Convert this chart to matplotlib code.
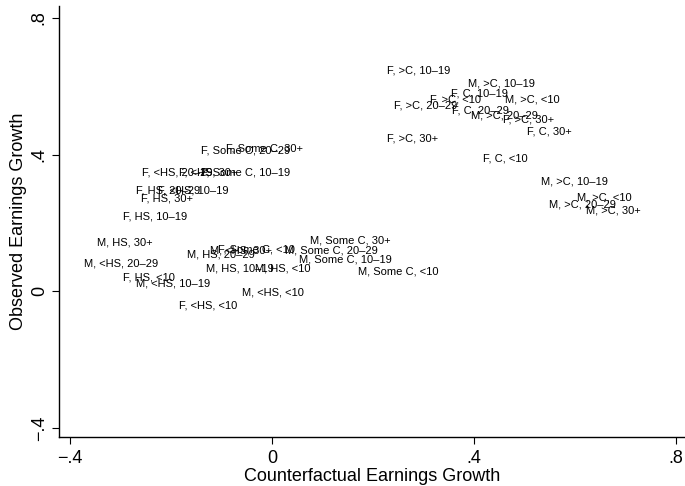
import matplotlib
matplotlib.use("Agg")
import matplotlib.pyplot as plt

plt.rcParams['font.family'] = ['Liberation Sans', 'DejaVu Sans']

# group labels (gender, education, experience) with counterfactual / observed growth
labels = [
    "F, >C, 10–19", "M, >C, 10–19", "F, C, 10–19", "F, >C, <10",
    "M, >C, <10", "F, >C, 20–29", "F, C, 20–29", "M, >C, 20–29",
    "F, >C, 30+", "F, C, 30+", "F, >C, 30+", "F, C, <10",
    "M, >C, 10–19", "M, >C, <10", "M, >C, 20–29", "M, >C, 30+",
    "F, Some C, 30+", "F, Some C, 20–29", "F, <HS, 20–29", "F, <HS, 30+",
    "F, Some C, 10–19", "F, HS, 20–29", "F, <HS, 10–19", "F, HS, 30+",
    "F, HS, 10–19", "M, HS, 30+", "M, <HS, 20–29", "F, HS, <10",
    "M, <HS, 10–19", "F, <HS, <10", "M, HS, 20–29", "M, <HS, 30+",
    "F, Some C, <10", "M, HS, 10–19", "M, HS, <10", "M, <HS, <10",
    "M, Some C, 30+", "M, Some C, 20–29", "M, Some C, 10–19", "M, Some C, <10",
]
counterfactual = [
    0.220, 0.380, 0.347, 0.305, 0.453, 0.234, 0.349, 0.386,
    0.450, 0.497, 0.220, 0.410, 0.525, 0.596, 0.541, 0.614,
    -0.099, -0.149, -0.265, -0.192, -0.149, -0.277, -0.234, -0.267,
    -0.303, -0.354, -0.380, -0.303, -0.277, -0.192, -0.176, -0.131,
    -0.115, -0.139, -0.042, -0.067, 0.067, 0.018, 0.046, 0.162,
]
observed = [
    0.645, 0.607, 0.578, 0.561, 0.561, 0.543, 0.528, 0.514,
    0.502, 0.467, 0.447, 0.388, 0.321, 0.274, 0.254, 0.236,
    0.418, 0.412, 0.347, 0.347, 0.347, 0.295, 0.295, 0.272,
    0.219, 0.143, 0.082, 0.041, 0.023, -0.041, 0.108, 0.120,
    0.123, 0.067, 0.067, -0.003, 0.149, 0.120, 0.093, 0.058,
]

tick_vals = [-0.4, 0, 0.4, 0.8]
tick_text = ["−.4", "0", ".4", ".8"]

fig = plt.figure(figsize=(6.85, 4.86), dpi=100)
ax = fig.add_axes([0.0861, 0.1008, 0.9139, 0.8869])

# markers are hidden, only the labels show
ax.scatter(counterfactual, observed, s=0, alpha=0)
for lab, x, y in zip(labels, counterfactual, observed):
    ax.annotate(lab, (x, y), xytext=(3, 0), textcoords='offset points',
                ha='left', va='center', fontsize=8, color='black')

ax.set_xlim(-0.422, 0.818)
ax.set_ylim(-0.426, 0.835)
ax.set_xticks(tick_vals)
ax.set_xticklabels(tick_text)
ax.set_yticks(tick_vals)
ax.set_yticklabels(tick_text, rotation=90, va='center')

for s in ['top', 'right']:
    ax.spines[s].set_visible(False)
for s in ['left', 'bottom']:
    ax.spines[s].set_linewidth(1.0)
ax.tick_params(direction='out', length=5, width=0.8, labelsize=13)
ax.tick_params(axis='x', pad=4)
ax.tick_params(axis='y', pad=3)

ax.set_xlabel("Counterfactual Earnings Growth", fontsize=13, labelpad=1)
ax.set_ylabel("Observed Earnings Growth", fontsize=13, labelpad=3)

fig.savefig("out.png", dpi=100, facecolor='white')
